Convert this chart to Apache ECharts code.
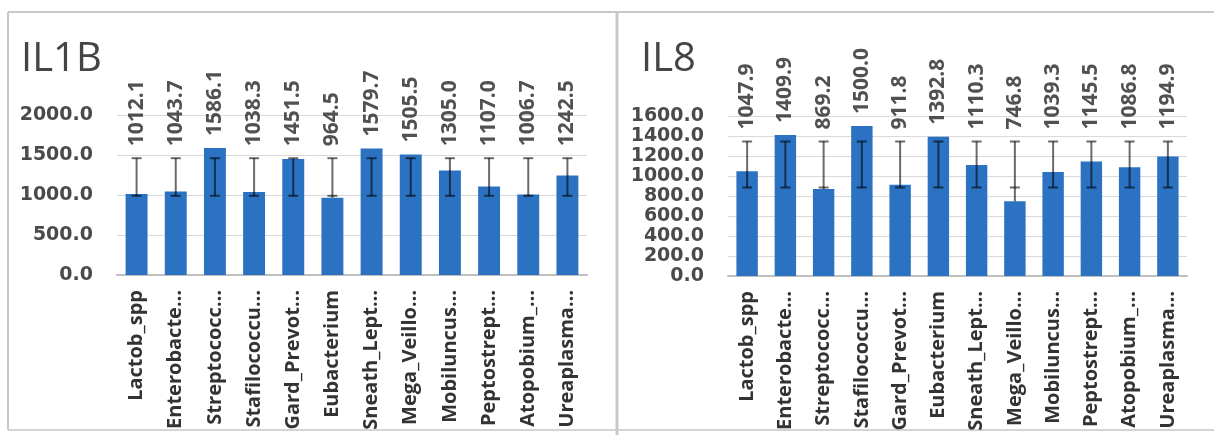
<!DOCTYPE html>
<html>
<head>
<meta charset="utf-8">
<script src="https://cdn.jsdelivr.net/npm/echarts@6/dist/echarts.min.js"></script>
<style>
  html, body { margin: 0; padding: 0; background: #ffffff; }
  #chart { width: 1214px; height: 435px; }
</style>
</head>
<body>
<div id="chart"></div>
<script>
// ---- data ----
const categories = ['Lactob_spp', 'Enterobacte…', 'Streptococc…', 'Stafilococcu…', 'Gard_Prevot…', 'Eubacterium',
  'Sneath_Lept…', 'Mega_Veillo…', 'Mobiluncus…', 'Peptostrept…', 'Atopobium_…', 'Ureaplasma…'];

const il1bValues = [1012.1, 1043.7, 1586.1, 1038.3, 1451.5, 964.5, 1579.7, 1505.5, 1305.0, 1107.0, 1006.7, 1242.5];
const il1bErrLow = [990, 990, 990, 990, 990, 990, 990, 990, 990, 990, 990, 990];
const il1bErrHigh = [1460, 1460, 1460, 1460, 1460, 1460, 1460, 1460, 1460, 1460, 1460, 1460];

const il8Values = [1047.9, 1409.9, 869.2, 1500.0, 911.8, 1392.8, 1110.3, 746.8, 1039.3, 1145.5, 1086.8, 1194.9];
const il8ErrLow = [885, 885, 885, 885, 885, 885, 885, 885, 885, 885, 885, 885];
const il8ErrHigh = [1345, 1345, 1345, 1345, 1345, 1345, 1345, 1345, 1345, 1345, 1345, 1345];

const titles = ['IL1B', 'IL8'];

// ---- styling ----
const FONT = 'Open Sans';
const TICK_FONT = 'DejaVu Sans';
const BAR_COLOR = '#2B72C2';

function errorSeries(axisIdx, values, lows, highs) {
  return {
    type: 'custom',
    xAxisIndex: axisIdx, yAxisIndex: axisIdx,
    z: 5,
    data: values.map((v, i) => [i, Math.min(v, lows[i]), lows[i], highs[i]]),
    renderItem: function (params, api) {
      const x = api.value(0);
      const pStart = api.coord([x, api.value(1)]);
      const pLow = api.coord([x, api.value(2)]);
      const pHigh = api.coord([x, api.value(3)]);
      const cap = 5;
      const st = { stroke: 'rgba(0,0,0,0.58)', lineWidth: 2 };
      return {
        type: 'group',
        children: [
          { type: 'line', shape: { x1: pStart[0], y1: pStart[1], x2: pHigh[0], y2: pHigh[1] }, style: st },
          { type: 'line', shape: { x1: pHigh[0] - cap, y1: pHigh[1], x2: pHigh[0] + cap, y2: pHigh[1] }, style: st },
          { type: 'line', shape: { x1: pLow[0] - cap, y1: pLow[1], x2: pLow[0] + cap, y2: pLow[1] }, style: st }
        ]
      };
    }
  };
}

function labelSeries(axisIdx, values, highs) {
  return {
    type: 'scatter',
    xAxisIndex: axisIdx, yAxisIndex: axisIdx,
    symbolSize: 0,
    z: 6,
    silent: true,
    clip: false,
    data: values.map((v, i) => [i, Math.max(v, highs[i])]),
    label: {
      show: true,
      position: 'top',
      distance: 12,
      rotate: 90,
      align: 'left',
      verticalAlign: 'middle',
      fontFamily: FONT,
      fontSize: 21,
      fontWeight: 'bold',
      color: '#262626',
      formatter: p => values[p.dataIndex].toFixed(1)
    }
  };
}

function barSeries(axisIdx, values) {
  return {
    type: 'bar',
    xAxisIndex: axisIdx, yAxisIndex: axisIdx,
    data: values,
    barWidth: '56%',
    itemStyle: { color: BAR_COLOR }
  };
}

function xAxisCfg(gridIdx) {
  return {
    type: 'category',
    gridIndex: gridIdx,
    data: categories,
    axisTick: { show: false },
    axisLine: { lineStyle: { color: '#bfbfbf', width: 2 } },
    axisLabel: {
      interval: 0, rotate: 90, margin: 15,
      fontFamily: FONT, fontSize: 20, fontWeight: 'bold', color: '#333333'
    }
  };
}

function yAxisCfg(gridIdx, max, interval) {
  return {
    type: 'value',
    gridIndex: gridIdx,
    min: 0, max: max, interval: interval,
    axisLine: { show: false },
    axisTick: { show: false },
    splitLine: { lineStyle: { color: '#d9d9d9', width: 1 } },
    axisLabel: {
      margin: 24,
      showMinLabel: true, showMaxLabel: true,
      hideOverlap: false,
      fontFamily: TICK_FONT, fontSize: 19, fontWeight: 'bold', color: '#4a4a4a',
      formatter: v => v.toFixed(1)
    }
  };
}

const chart = echarts.init(document.getElementById('chart'), null, { renderer: 'canvas' });

chart.setOption({
  backgroundColor: '#ffffff',
  animation: false,
  title: [
    { text: titles[0], left: 16, top: 35, textStyle: { fontFamily: FONT, fontSize: 40, fontWeight: 'normal', color: '#454545' } },
    { text: titles[1], left: 636, top: 35, textStyle: { fontFamily: FONT, fontSize: 40, fontWeight: 'normal', color: '#454545' } }
  ],
  graphic: [
    { type: 'line', shape: { x1: 8, y1: 12, x2: 1214, y2: 12 }, style: { stroke: '#c8c8c8', lineWidth: 2 } },
    { type: 'line', shape: { x1: 8, y1: 12, x2: 8, y2: 430 }, style: { stroke: '#c8c8c8', lineWidth: 2 } },
    { type: 'line', shape: { x1: 8, y1: 430, x2: 1214, y2: 430 }, style: { stroke: '#d4d4d4', lineWidth: 2 } },
    { type: 'line', shape: { x1: 617, y1: 12, x2: 617, y2: 435 }, style: { stroke: '#c8c8c8', lineWidth: 3 } }
  ],
  grid: [
    { left: 117, top: 115, width: 470, height: 160, containLabel: false, outerBoundsMode: 'none' },
    { left: 728, top: 116, width: 459, height: 160, containLabel: false, outerBoundsMode: 'none' }
  ],
  xAxis: [xAxisCfg(0), xAxisCfg(1)],
  yAxis: [yAxisCfg(0, 2000, 500), yAxisCfg(1, 1600, 200)],
  series: [
    barSeries(0, il1bValues),
    errorSeries(0, il1bValues, il1bErrLow, il1bErrHigh),
    labelSeries(0, il1bValues, il1bErrHigh),
    barSeries(1, il8Values),
    errorSeries(1, il8Values, il8ErrLow, il8ErrHigh),
    labelSeries(1, il8Values, il8ErrHigh)
  ]
});
</script>
</body>
</html>
